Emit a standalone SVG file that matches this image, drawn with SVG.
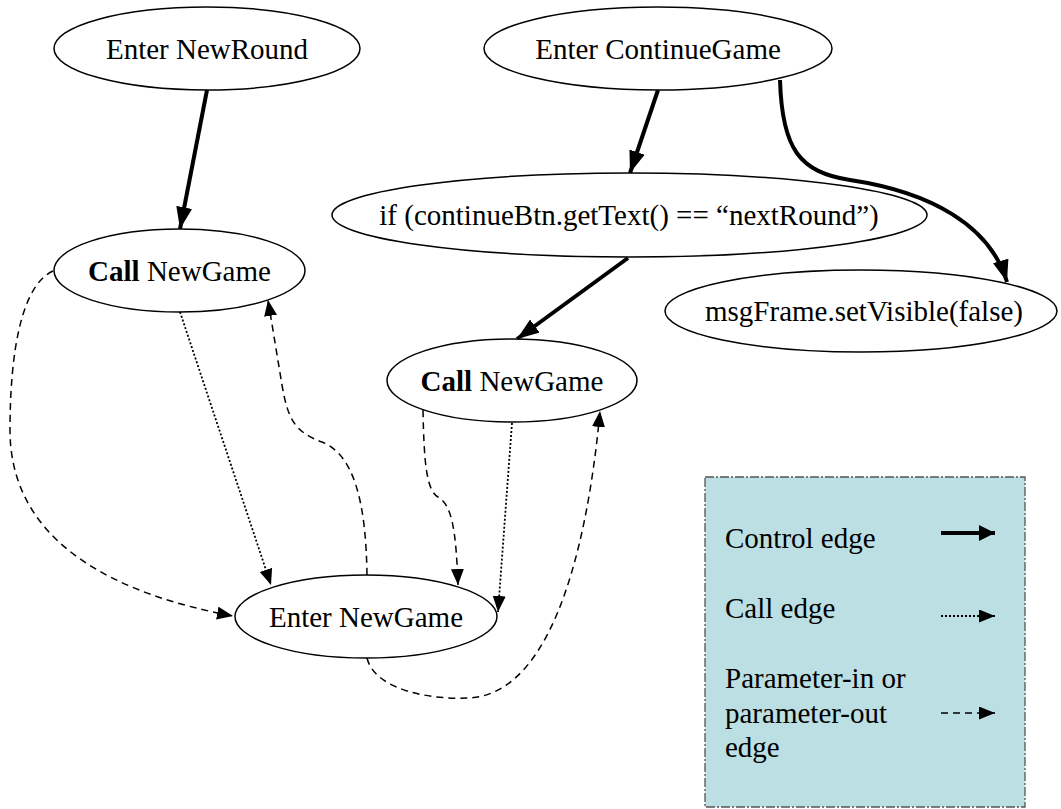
<svg xmlns="http://www.w3.org/2000/svg" width="1061" height="809" viewBox="0 0 1061 809">
  <style>
    text { font-family: "Liberation Serif", "Tinos", "Times New Roman", "Noto Serif", "DejaVu Serif", serif; font-size: 29px; fill: #000000; }
    .node ellipse { fill: #ffffff; stroke: #000000; stroke-width: 1.5; }
    .label { text-anchor: middle; }
    .control { fill: none; stroke: #000000; stroke-width: 4; marker-end: url(#headBold); }
    .call { fill: none; stroke: #000000; stroke-width: 1.8; stroke-dasharray: 2 2; marker-end: url(#headThin); }
    .param { fill: none; stroke: #000000; stroke-width: 1.5; stroke-dasharray: 7 5; marker-end: url(#headThin); }
  </style>
  <defs>
    <marker id="headBold" markerUnits="userSpaceOnUse" markerWidth="24" markerHeight="18" refX="22" refY="8" orient="auto">
      <path d="M0,0 L22,8 L0,16 z" fill="#000000"/>
    </marker>
    <marker id="headThin" markerUnits="userSpaceOnUse" markerWidth="20" markerHeight="16" refX="16" refY="6.5" orient="auto">
      <path d="M0,0 L16,6.5 L0,13 z" fill="#000000"/>
    </marker>
    <marker id="headLegend" markerUnits="userSpaceOnUse" markerWidth="18" markerHeight="18" refX="16" refY="8" orient="auto">
      <path d="M0,0 L16,8 L0,16 z" fill="#000000"/>
    </marker>
  </defs>

  <rect width="1061" height="809" fill="#ffffff"/>

  <!-- connectors -->
  <g id="edges">
    <path class="control" d="M207,90 L180,229"/>
    <path class="control" d="M658,90 L630,173"/>
    <path class="control" d="M780,80 C782,150 800,172 850,180 C930,192 990,225 1007,282"/>
    <path class="control" d="M628,258 L517,339"/>
    <path class="param" d="M53,271 C22,285 10,350 10,430 C10,545 120,595 233,616"/>
    <path class="call" d="M180,312 L271,585"/>
    <path class="param" d="M367,575 C366,505 355,455 322,442 C295,432 288,420 282,385 L268,300"/>
    <path class="param" d="M423,410 C424,460 426,490 438,497 C452,505 456,530 458,585"/>
    <path class="call" d="M512,423 L498,612"/>
    <path class="param" d="M367,658 C375,690 430,700 470,698 C560,692 590,520 600,411"/>
  </g>

  <!-- nodes -->
  <g id="enterNewRound" class="node">
    <ellipse cx="207" cy="48.5" rx="153" ry="41.5"/>
    <text class="label" x="207" y="59">Enter NewRound</text>
  </g>
  <g id="enterContinueGame" class="node">
    <ellipse cx="658" cy="48.5" rx="174" ry="41.5"/>
    <text class="label" x="658" y="59">Enter ContinueGame</text>
  </g>
  <g id="ifContinue" class="node">
    <ellipse cx="629.5" cy="215" rx="297.5" ry="42"/>
    <text class="label" x="629" y="225">if (continueBtn.getText() == “nextRound”)</text>
  </g>
  <g id="callNewGameLeft" class="node">
    <ellipse cx="179.5" cy="270.5" rx="125.5" ry="41.5"/>
    <text class="label" x="179.5" y="281"><tspan font-weight="bold">Call</tspan> NewGame</text>
  </g>
  <g id="msgFrameHide" class="node">
    <ellipse cx="861" cy="311" rx="196" ry="41"/>
    <text class="label" x="864" y="321">msgFrame.setVisible(false)</text>
  </g>
  <g id="callNewGameMiddle" class="node">
    <ellipse cx="512" cy="380.5" rx="125" ry="41.5"/>
    <text class="label" x="512" y="391"><tspan font-weight="bold">Call</tspan> NewGame</text>
  </g>
  <g id="enterNewGame" class="node">
    <ellipse cx="366" cy="616.5" rx="131" ry="41.5"/>
    <text class="label" x="366" y="627">Enter NewGame</text>
  </g>

  <!-- legend -->
  <g id="legend">
    <rect x="705" y="477" width="320" height="330" fill="#bbdfe2" stroke="#555555" stroke-width="1.3" stroke-dasharray="9 2 2 2"/>
    <text x="725" y="548">Control edge</text>
    <text x="725" y="618">Call edge</text>
    <text x="725" y="688">Parameter-in or</text>
    <text x="725" y="723">parameter-out</text>
    <text x="725" y="757">edge</text>
    <path class="control" d="M941,533 L995,533" marker-end="url(#headLegend)" style="marker-end: url(#headLegend)"/>
    <path class="call" d="M941,616 L995,616"/>
    <path class="param" d="M941,713 L995,713" stroke-dasharray="6 4"/>
  </g>
</svg>
